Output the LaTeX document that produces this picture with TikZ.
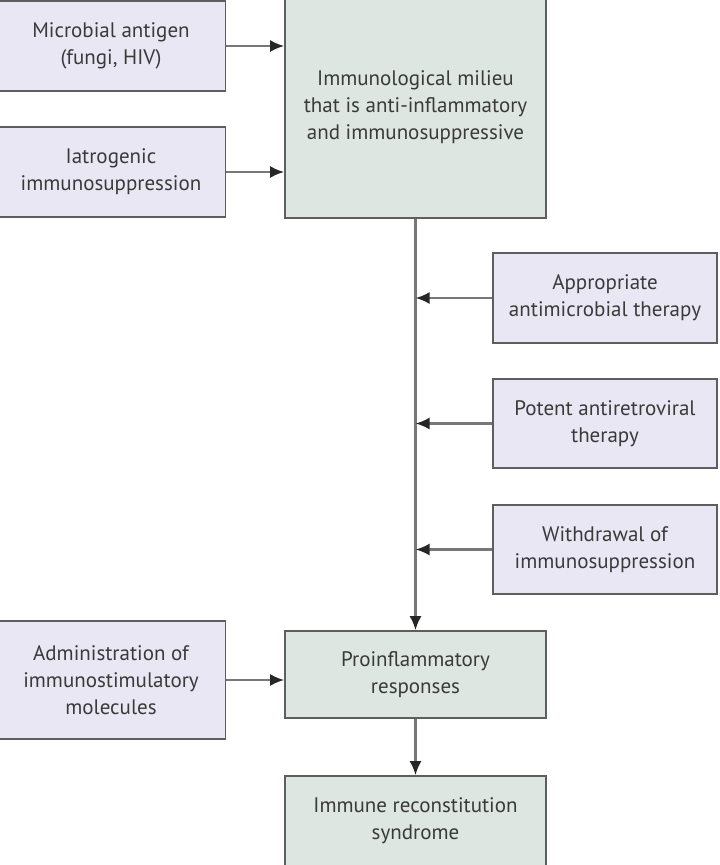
\documentclass[tikz,border=0pt]{standalone}
\usepackage{fontspec}
\setmainfont{PT Sans}
\usetikzlibrary{arrows.meta}
\definecolor{lavfill}{HTML}{E9E7F3}
\definecolor{greenfill}{HTML}{DDE6E0}
\definecolor{boxline}{HTML}{5E5E5E}
\definecolor{flowline}{HTML}{777777}
\definecolor{tipdark}{HTML}{262626}
\definecolor{textgrey}{HTML}{3A3A3A}

\begin{document}
\begin{tikzpicture}[x=1pt,y=-1pt,
    sidebox/.style={draw=boxline, line width=1.6pt, fill=lavfill, align=center,
        text=textgrey, font=\fontsize{21}{27}\selectfont, inner sep=0pt},
    greenbox/.style={sidebox, fill=greenfill},
    flow/.style={draw=flowline, line width=2.4pt,
        -{Latex[length=14pt,width=12pt,color=tipdark]}}]
    \useasboundingbox (0,0) rectangle (720,865);
    \clip (0,0) rectangle (720,865);
    \fill[white] (0,0) rectangle (720,865);

    \node[sidebox, minimum width=229pt, minimum height=90pt] (micro) at (111,46) {Microbial antigen\\(fungi, HIV)};
    \node[sidebox, minimum width=229pt, minimum height=90pt] (iatro) at (111,172) {Iatrogenic\\immunosuppression};
    \node[sidebox, minimum width=229pt, minimum height=118pt] (admin) at (111,680) {Administration of\\immunostimulatory\\molecules};

    \node[greenbox, minimum width=261pt, minimum height=222pt] (milieu) at (415.5,107) {Immunological milieu\\that is anti-inflammatory\\and immunosuppressive};
    \node[greenbox, minimum width=261pt, minimum height=87pt] (proinf) at (415.5,674.5) {Proinflammatory\\responses};
    \node[greenbox, minimum width=261pt, minimum height=90pt] (irs) at (415.5,821) {Immune reconstitution\\syndrome};

    \node[sidebox, minimum width=224pt, minimum height=90pt] (antimic) at (605,298) {Appropriate\\antimicrobial therapy};
    \node[sidebox, minimum width=224pt, minimum height=89pt] (antiret) at (605,423.5) {Potent antiretroviral\\therapy};
    \node[sidebox, minimum width=224pt, minimum height=89pt] (withdr) at (605,549.5) {Withdrawal of\\immunosuppression};

    \draw[flow] (micro.east) -- (micro.east -| milieu.west);
    \draw[flow] (iatro.east) -- (iatro.east -| milieu.west);
    \draw[flow] (milieu.south) -- (proinf.north);
    \draw[flow] (antimic.west) -- (antimic.west -| milieu.south);
    \draw[flow] (antiret.west) -- (antiret.west -| milieu.south);
    \draw[flow] (withdr.west) -- (withdr.west -| milieu.south);
    \draw[flow] (admin.east) -- (admin.east -| proinf.west);
    \draw[flow] (proinf.south) -- (irs.north);
\end{tikzpicture}
\end{document}
